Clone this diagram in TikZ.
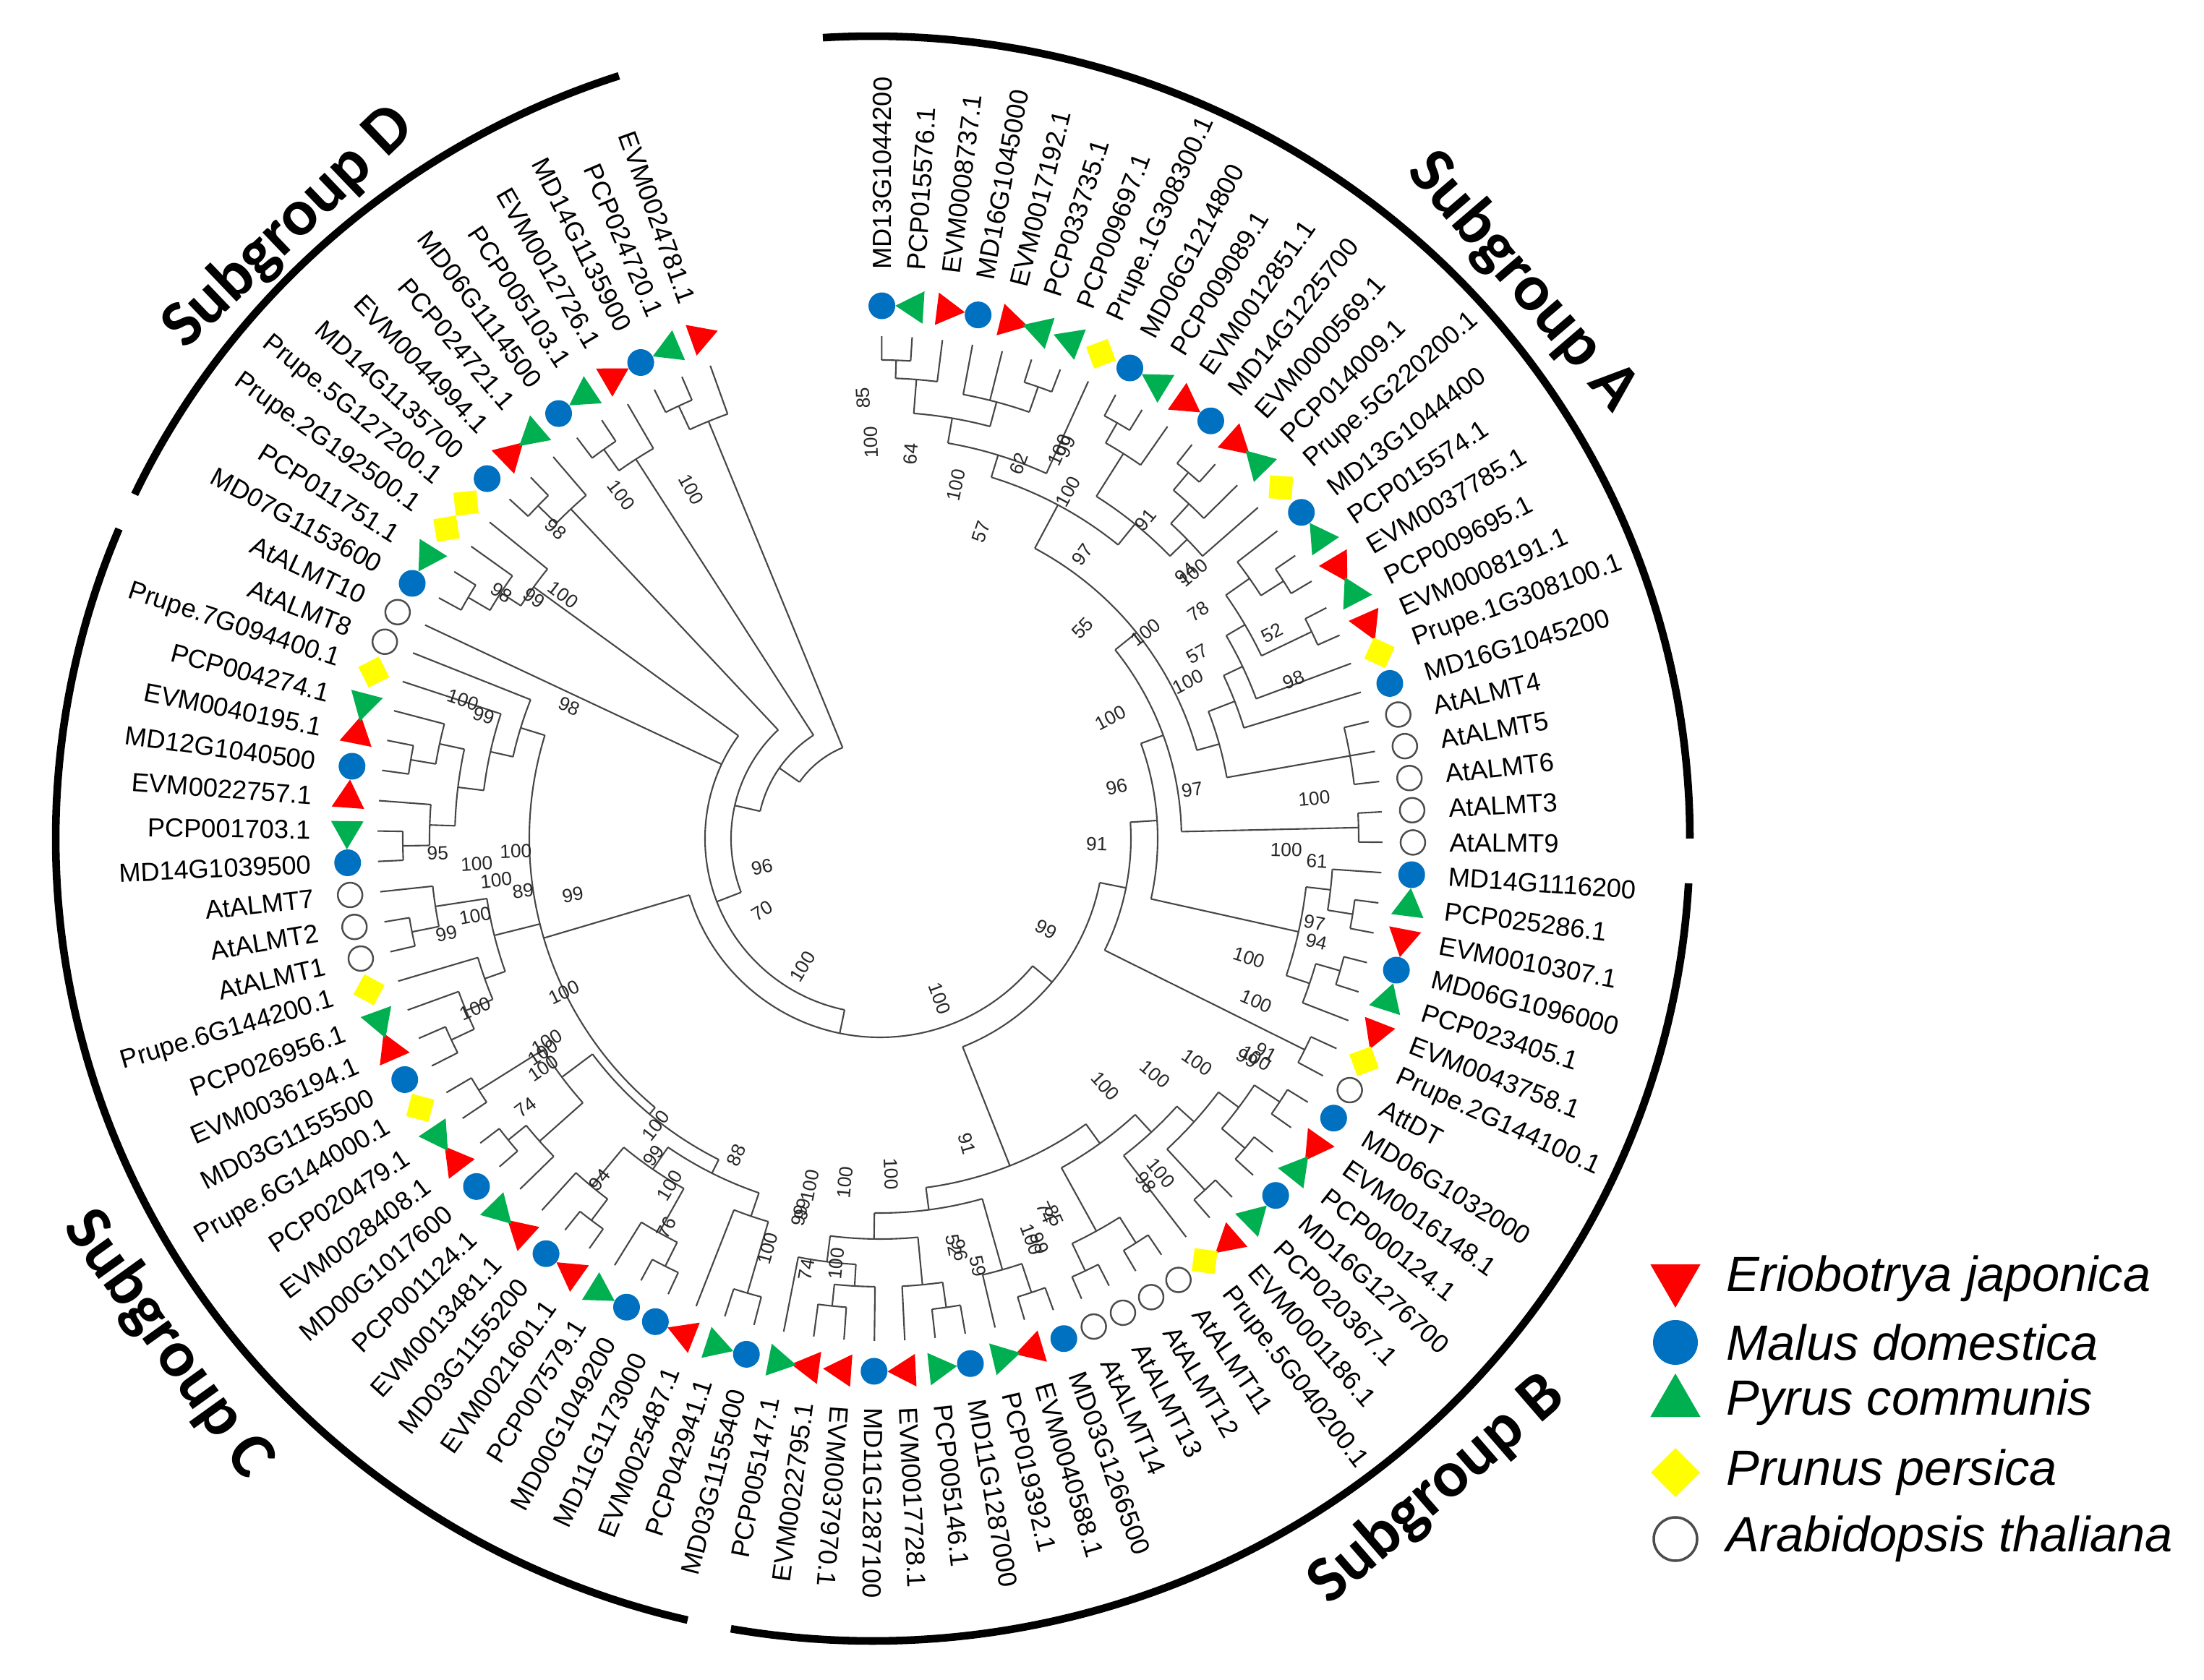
\documentclass[tikz,border=0pt]{standalone}
\usepackage{fontspec}
\setmainfont{Liberation Sans}
\newfontfamily\grpfont{Carlito}
\usetikzlibrary{shapes.geometric}

\definecolor{ejred}{RGB}{255,0,0}
\definecolor{mdblue}{RGB}{0,112,192}
\definecolor{pcgreen}{RGB}{0,176,80}
\definecolor{ppyellow}{RGB}{255,255,0}
\definecolor{brgray}{RGB}{70,70,70}

\tikzset{
  br/.style={draw=brgray, line width=0.6pt},
  mk/.style={inner sep=0pt, outer sep=0pt},
  sEj/.style={mk, regular polygon, regular polygon sides=3, shape border rotate=180, fill=ejred, minimum size=0.52cm},
  sPc/.style={mk, regular polygon, regular polygon sides=3, fill=pcgreen, minimum size=0.52cm},
  sMd/.style={mk, circle, fill=mdblue, minimum size=0.37cm},
  sPp/.style={mk, diamond, fill=ppyellow, minimum width=0.45cm, minimum height=0.45cm},
  sAt/.style={mk, circle, draw=black!70, line width=0.7pt, fill=white, minimum size=0.34cm},
  lbl/.style={inner sep=0pt, font=\fontsize{10.3}{12}\selectfont},
  bs/.style={inner sep=0pt, font=\fontsize{7.5}{9}\selectfont, text=black!85},
  grp/.style={inner sep=0pt, font=\grpfont\bfseries\fontsize{26}{30}\selectfont},
  grparc/.style={line width=3pt},
  leg/.style={inner sep=0pt, anchor=west, font=\itshape\fontsize{19.5}{23}\selectfont},
}

\makeatletter
% store angle and radius of a tree node
\newcommand\setnd[3]{%
  \expandafter\xdef\csname nda@#1\endcsname{#2}%
  \expandafter\xdef\csname ndr@#1\endcsname{#3}%
  \coordinate (#1) at (#2:#3);}
\newcommand\nda[1]{\csname nda@#1\endcsname}
% clade: name, radius, children
\newcommand\clade[3]{%
  \gdef\cl@lo{1000}\gdef\cl@hi{-1000}%
  \foreach \ch in {#3}{%
    \pgfmathsetmacro\cl@a{\nda{\ch}}%
    \pgfmathsetmacro\cl@t{min(\cl@lo,\cl@a)}\xdef\cl@lo{\cl@t}%
    \pgfmathsetmacro\cl@t{max(\cl@hi,\cl@a)}\xdef\cl@hi{\cl@t}%
    \draw[br] (\ch) -- (\cl@a:#2);
  }%
  \draw[br] (\cl@hi:#2) arc[start angle=\cl@hi, end angle=\cl@lo, radius=#2];
  \pgfmathsetmacro\cl@m{(\cl@hi+\cl@lo)/2}%
  \setnd{#1}{\cl@m}{#2}}
\makeatother

\begin{document}
\begin{tikzpicture}
\useasboundingbox (-12.17,-11.64) rectangle (18.31,11.60);

% leaf tips
\foreach \i in {1,...,99}{
  \pgfmathsetmacro\tha{89.8-(\i-1)*3.47}
  \setnd{L\i}{\tha}{6.95}
}

% subgroup A
\clade{a12}{6.62}{L1,L2}
\clade{a123}{6.37}{a12,L3}
\clade{a67}{6.62}{L6,L7}
\clade{a47}{6.25}{L4,L5,a67}
\clade{a17}{5.90}{a123,a47}
\clade{a18}{5.55}{a17,L8}
\clade{a910}{6.62}{L9,L10}
\clade{a911}{6.30}{a910,L11}
\clade{a1213}{6.62}{L12,L13}
\clade{a1214}{6.30}{a1213,L14}
\clade{a1215}{5.93}{a1214,L15}
\clade{a915}{5.60}{a911,a1215}
\clade{a115}{5.23}{a18,a915}
\clade{a1718}{6.62}{L17,L18}
\clade{a1618}{6.25}{L16,a1718}
\clade{a1920}{6.62}{L19,L20}
\clade{a1620}{5.85}{a1618,a1920}
\clade{a1621}{5.55}{a1620,L21}
\clade{a1622}{5.26}{a1621,L22}
\clade{a2325}{6.60}{L23,L24,L25}
\clade{a1625}{4.87}{a1622,a2325}
\clade{a125}{4.55}{a115,a1625}
\clade{a2627}{6.62}{L26,L27}
\clade{a127}{4.17}{a125,a2627}

% subgroup B
\clade{b2930}{6.62}{L29,L30}
\clade{b2830}{6.27}{L28,b2930}
\clade{b3132}{6.62}{L31,L32}
\clade{b3133}{6.27}{b3132,L33}
\clade{b2833}{5.93}{b2830,b3133}
\clade{R1}{3.84}{a127,b2833}
\clade{b3435}{6.56}{L34,L35}
\clade{R2}{3.47}{R1,b3435}
\clade{b3637}{6.62}{L36,L37}
\clade{b3839}{6.62}{L38,L39}
\clade{b3639}{6.20}{b3637,b3839}
\clade{b4041}{6.62}{L40,L41}
\clade{b3641}{5.85}{b3639,b4041}
\clade{b3642}{5.53}{b3641,L42}
\clade{b4344}{6.62}{L43,L44}
\clade{b4546}{6.62}{L45,L46}
\clade{b4346}{6.20}{b4344,b4546}
\clade{b3646}{5.20}{b3642,b4346}
\clade{b4748}{6.62}{L47,L48}
\clade{b4749}{6.20}{b4748,L49}
\clade{b5051}{6.55}{L50,L51}
\clade{b5052}{6.20}{b5051,L52}
\clade{b5455}{6.50}{L54,L55}
\clade{b5355}{6.20}{L53,b5455}
\clade{b5356}{5.90}{b5355,L56}
\clade{b5056}{5.54}{b5052,b5356}
\clade{b4756}{5.18}{b4749,b5056}
\clade{b3656}{4.87}{b3646,b4756}
\clade{R3}{3.10}{R2,b3656}

% subgroup C
\clade{c5758}{6.55}{L57,L58}
\clade{c5759}{5.52}{c5758,L59}
\clade{c6061}{6.62}{L60,L61}
\clade{c6062}{6.25}{c6061,L62}
\clade{c6364}{6.62}{L63,L64}
\clade{c6365}{6.25}{c6364,L65}
\clade{c6065}{5.55}{c6062,c6365}
\clade{c5765}{5.18}{c5759,c6065}
\clade{c6768}{6.62}{L67,L68}
\clade{c6668}{6.30}{L66,c6768}
\clade{c6970}{6.55}{L69,L70}
\clade{c6670}{5.50}{c6668,c6970}
\clade{c5770}{4.97}{c5765,c6670}
\clade{c7172}{6.55}{L71,L72}
\clade{c7173}{6.20}{c7172,L73}
\clade{c7174}{5.80}{c7173,L74}
\clade{c7576}{6.60}{L75,L76}
\clade{c7577}{6.22}{c7576,L77}
\clade{c7177}{5.50}{c7174,c7577}
\clade{c7879}{6.60}{L78,L79}
\clade{c7880}{6.23}{c7879,L80}
\clade{c8182}{6.58}{L81,L82}
\clade{c8183}{6.23}{c8182,L83}
\clade{c7883}{5.88}{c7880,c8183}
\clade{c7884}{5.52}{c7883,L84}
\clade{c7885}{5.20}{c7884,L85}
\clade{C1}{4.85}{c5770,c7177,c7885}
\clade{S}{2.75}{C1,R3}

% subgroup D and root
\clade{d8788}{6.60}{L87,L88}
\clade{d8789}{6.25}{d8788,L89}
\clade{d8790}{5.92}{d8789,L90}
\clade{T}{2.42}{S,d8790,L86}
\clade{d9192}{6.60}{L91,L92}
\clade{d9193}{6.25}{d9192,L93}
\clade{U}{2.06}{T,d9193}
\clade{d9495}{6.60}{L94,L95}
\clade{d9496}{6.24}{d9495,L96}
\clade{V}{1.70}{U,d9496}
\clade{d9798}{6.60}{L97,L98}
\clade{d9799}{6.24}{d9798,L99}
\clade{W}{1.36}{V,d9799}

% bootstrap values
\foreach \bang/\brad/\bval [count=\bk] in {
  92.2/6.10/85, 91.3/5.48/100, 85.4/5.34/64, 77.9/5.00/100, 71.8/4.47/57,
  69.7/5.53/62, 65.2/5.92/100, 64.6/6.00/99, 61.5/5.46/100, 54.5/4.82/97,
  50.2/5.74/91, 37.8/4.65/100, 41.0/5.60/94, 40.3/5.68/100, 35.5/5.41/78,
  46.1/4.04/55, 30.2/5.08/57, 27.7/6.12/52, 27.0/4.78/100, 21.0/6.13/98,
  27.6/3.60/100, 12.3/3.35/96, 8.9/4.37/97, 5.3/6.03/100, -1.5/3.00/91,
  -1.6/5.62/100, -3.0/6.05/61, -11.0/6.12/97, -13.3/6.20/94, -28.6/2.62/99,
  -17.9/5.36/100, -23.4/5.67/100, -30.9/5.92/99, -30.3/6.02/100, -29.0/6.10/91,
  -35.2/5.37/100, -40.6/5.01/100, -47.7/4.63/100, -50.0/6.04/100, -52.3/6.01/98,
  -74.1/4.39/91, -66.0/5.66/74, -65.2/5.75/85, -69.3/5.93/100, -68.5/6.02/99,
  -79.7/5.72/52, -79.0/5.80/96, -77.1/6.07/59, -88.1/4.64/100, -95.8/4.78/100,
  -101.4/4.90/100, -101.8/5.24/99, -99.7/6.05/74, -95.9/5.91/100, -69.6/2.36/100,
  238.8/2.07/100, 206.0/4.86/100, 211.4/5.40/100, 212.4/5.52/100, 214.3/5.64/100,
  217.2/6.15/74, 230.6/6.11/94, 202.8/6.07/100, 234.5/5.39/99, 232.0/5.04/100,
  238.8/5.61/100, 241.2/6.14/76, 245.6/4.81/88, 254.7/5.88/100, 257.9/5.33/99,
  147.0/6.24/98, 145.2/5.83/99, 142.4/5.53/100, 156.9/4.67/98, 161.6/6.08/100,
  162.8/5.74/99, 182.0/5.04/100, 183.6/5.59/100, 186.2/5.34/100, 188.4/4.99/89,
  190.4/4.32/99, 181.9/6.12/95, 190.8/5.70/100, 192.4/6.14/99, 193.5/1.68/96,
  211.5/1.91/70, 118.4/5.49/100, 127.0/5.95/100, 136.3/6.20/98}{
  \pgfmathsetmacro\cth{cos(\bang)}
  \ifdim\cth pt>-0.1pt \edef\brot{\bang}\else\pgfmathsetmacro\brot{\bang+180}\fi
  \node[bs, rotate=\brot] (bs\bk) at (\bang:\brad) {\bval};
}

% markers and names
\foreach \i/\lab/\spc in {
  1/MD13G1044200/sMd, 2/PCP015576.1/sPc, 3/EVM0008737.1/sEj, 4/MD16G1045000/sMd,
  5/EVM0017192.1/sEj, 6/PCP033735.1/sPc, 7/PCP009697.1/sPc, 8/Prupe.1G308300.1/sPp,
  9/MD06G1214800/sMd, 10/PCP009089.1/sPc, 11/EVM0012851.1/sEj, 12/MD14G1225700/sMd,
  13/EVM0000569.1/sEj, 14/PCP014009.1/sPc, 15/Prupe.5G220200.1/sPp, 16/MD13G1044400/sMd,
  17/PCP015574.1/sPc, 18/EVM0037785.1/sEj, 19/PCP009695.1/sPc, 20/EVM0008191.1/sEj,
  21/Prupe.1G308100.1/sPp, 22/MD16G1045200/sMd, 23/AtALMT4/sAt, 24/AtALMT5/sAt,
  25/AtALMT6/sAt, 26/AtALMT3/sAt, 27/AtALMT9/sAt, 28/MD14G1116200/sMd,
  29/PCP025286.1/sPc, 30/EVM0010307.1/sEj, 31/MD06G1096000/sMd, 32/PCP023405.1/sPc,
  33/EVM0043758.1/sEj, 34/Prupe.2G144100.1/sPp, 35/AttDT/sAt, 36/MD06G1032000/sMd,
  37/EVM0016148.1/sEj, 38/PCP000124.1/sPc, 39/MD16G1276700/sMd, 40/PCP020367.1/sPc,
  41/EVM0001186.1/sEj, 42/Prupe.5G040200.1/sPp, 43/AtALMT11/sAt, 44/AtALMT12/sAt,
  45/AtALMT13/sAt, 46/AtALMT14/sAt, 47/MD03G1266500/sMd, 48/EVM0040588.1/sEj,
  49/PCP019392.1/sPc, 50/MD11G1287000/sMd, 51/PCP005146.1/sPc, 52/EVM0017728.1/sEj,
  53/MD11G1287100/sMd, 54/EVM0037970.1/sEj, 55/EVM0022795.1/sEj, 56/PCP005147.1/sPc,
  57/MD03G1155400/sMd, 58/PCP042941.1/sPc, 59/EVM0025487.1/sEj, 60/MD11G1173000/sMd,
  61/MD00G1049200/sMd, 62/PCP007579.1/sPc, 63/EVM0021601.1/sEj, 64/MD03G1155200/sMd,
  65/EVM0013481.1/sEj, 66/PCP001124.1/sPc, 67/MD00G1017600/sMd, 68/EVM0028408.1/sEj,
  69/PCP020479.1/sPc, 70/Prupe.6G144000.1/sPp, 71/MD03G1155500/sMd, 72/EVM0036194.1/sEj,
  73/PCP026956.1/sPc, 74/Prupe.6G144200.1/sPp, 75/AtALMT1/sAt, 76/AtALMT2/sAt,
  77/AtALMT7/sAt, 78/MD14G1039500/sMd, 79/PCP001703.1/sPc, 80/EVM0022757.1/sEj,
  81/MD12G1040500/sMd, 82/EVM0040195.1/sEj, 83/PCP004274.1/sPc, 84/Prupe.7G094400.1/sPp,
  85/AtALMT8/sAt, 86/AtALMT10/sAt, 87/MD07G1153600/sMd, 88/PCP011751.1/sPc,
  89/Prupe.2G192500.1/sPp, 90/Prupe.5G127200.1/sPp, 91/MD14G1135700/sMd, 92/EVM0044994.1/sEj,
  93/PCP024721.1/sPc, 94/MD06G1114500/sMd, 95/PCP005103.1/sPc, 96/EVM0012726.1/sEj,
  97/MD14G1135900/sMd, 98/PCP024720.1/sPc, 99/EVM0024781.1/sEj}{
  \pgfmathsetmacro\tha{89.8-(\i-1)*3.47}
  \node[\spc, rotate=\tha] (m\i) at (\tha:7.37) {};
  \pgfmathsetmacro\cth{cos(\tha)}
  \ifdim\cth pt>-0.1pt
    \node[lbl, anchor=west, rotate=\tha] (t\i) at (\tha:7.87) {\lab};
  \else
    \pgfmathsetmacro\lrot{\tha+180}
    \node[lbl, anchor=east, rotate=\lrot] (t\i) at (\tha:7.87) {\lab};
  \fi
}

% subgroup arcs
\begin{scope}[xshift=-0.1cm]
  \draw[grparc] (93.5:11.3 and 11.1) arc[start angle=93.5, end angle=0, x radius=11.3, y radius=11.1];
  \draw[grparc] (-3.2:11.3 and 11.1) arc[start angle=-3.2, end angle=-100, x radius=11.3, y radius=11.1];
  \draw[grparc] (-103.1:11.3 and 11.1) arc[start angle=-103.1, end angle=-202.7, x radius=11.3, y radius=11.1];
  \draw[grparc] (154.6:11.3 and 11.1) arc[start angle=154.6, end angle=108.1, x radius=11.3, y radius=11.1];
  \node[grp, rotate=-49.4] (gA) at (40.6:11.84) {Subgroup A};
  \node[grp, rotate=40.9] (gB) at (-49.1:11.92) {Subgroup B};
  \node[grp, rotate=-54.3] (gC) at (-144.3:12.0) {Subgroup C};
  \node[grp, rotate=43.7] (gD) at (133.7:11.69) {Subgroup D};
\end{scope}

% legend
\node[sEj, minimum size=0.80cm] (k1) at (11.0,-6.09) {};
\node[sMd, minimum size=0.62cm] (k2) at (11.0,-6.97) {};
\node[sPc, minimum size=0.80cm] (k3) at (11.0,-7.80) {};
\node[sPp, minimum width=0.68cm, minimum height=0.68cm] (k4) at (11.0,-8.77) {};
\node[sAt, minimum size=0.60cm, line width=1pt] (k5) at (11.0,-9.69) {};
\node[leg] (kt1) at (11.70,-6.09) {Eriobotrya japonica};
\node[leg] (kt2) at (11.70,-6.97) {Malus domestica};
\node[leg] (kt3) at (11.70,-7.80) {Pyrus communis};
\node[leg] (kt4) at (11.70,-8.77) {Prunus persica};
\node[leg] (kt5) at (11.70,-9.69) {Arabidopsis thaliana};
\end{tikzpicture}
\end{document}
